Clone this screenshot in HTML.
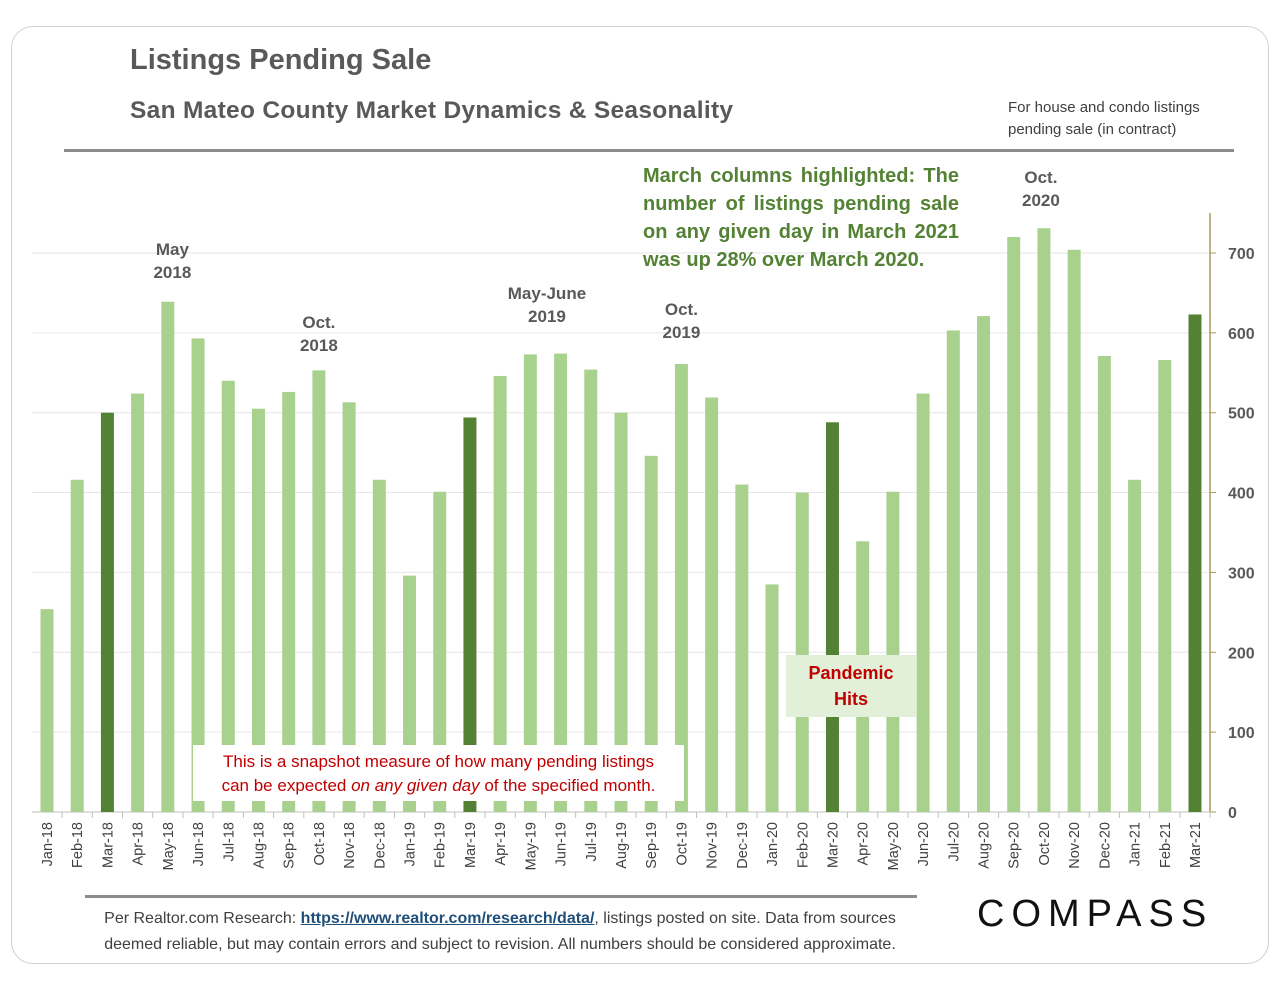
<!DOCTYPE html>
<html><head><meta charset="utf-8"><style>
body{margin:0;background:#fff;width:1280px;height:989px;overflow:hidden;font-family:"Liberation Sans",sans-serif}
.t{position:absolute;white-space:nowrap}
</style></head><body>
<div style="position:absolute;left:11px;top:26px;width:1256px;height:936px;border:1.5px solid #d0d0d0;border-radius:22px"></div>
<div class="t" style="left:130px;top:44px;font-size:29px;font-weight:bold;color:#595959">Listings Pending Sale</div>
<div class="t" style="left:130px;top:97px;font-size:24.5px;font-weight:bold;color:#595959;letter-spacing:0.3px">San Mateo County Market Dynamics &amp; Seasonality</div>
<div class="t" style="left:1008px;top:97px;font-size:15px;line-height:22px;color:#404040">For house and condo listings<br>pending sale (in contract)</div>
<div style="position:absolute;left:64px;top:149px;width:1170px;height:3px;background:#8c8c8c"></div>
<svg id="chart" width="1280" height="989" style="position:absolute;left:0;top:0"></svg>
<div class="t" style="left:643px;top:162px;font-size:20px;line-height:28px;font-weight:bold;color:#548235;text-align:justify;white-space:normal;width:316px;text-align-last:left">March columns highlighted: The number of listings pending sale on any given day in March 2021 was up 28% over March 2020.</div>
<div class="t" style="left:193px;top:745px;width:491px;height:56px;background:#fff;font-size:17px;line-height:24px;color:#c00000;text-align:center;padding-top:5px;box-sizing:border-box">This is a snapshot measure of how many pending listings<br>can be expected <i>on any given day</i> of the specified month.</div>
<div class="t" style="left:786px;top:655px;width:130px;height:62px;background:#e2f0d9;font-size:18px;line-height:26px;font-weight:bold;color:#c00000;text-align:center;padding-top:5px;box-sizing:border-box">Pandemic<br>Hits</div>
<div style="position:absolute;left:85px;top:895px;width:832px;height:3px;background:#8c8c8c"></div>
<div class="t" style="left:84px;top:906px;font-size:16px;line-height:26px;color:#404040;text-align:center;width:832px">Per Realtor.com Research: <u style="color:#1f4e79;font-weight:bold">https://www.realtor.com/research/data/</u>, listings posted on site. Data from sources<br>deemed reliable, but may contain errors and subject to revision. All numbers should be considered approximate.</div>
<div class="t" style="left:977px;top:893px;font-size:38px;letter-spacing:7px;color:#111">COMPASS</div>
<script>
const months=["Jan-18","Feb-18","Mar-18","Apr-18","May-18","Jun-18","Jul-18","Aug-18","Sep-18","Oct-18","Nov-18","Dec-18","Jan-19","Feb-19","Mar-19","Apr-19","May-19","Jun-19","Jul-19","Aug-19","Sep-19","Oct-19","Nov-19","Dec-19","Jan-20","Feb-20","Mar-20","Apr-20","May-20","Jun-20","Jul-20","Aug-20","Sep-20","Oct-20","Nov-20","Dec-20","Jan-21","Feb-21","Mar-21"];
const values=[254,416,500,524,639,593,540,505,526,553,513,416,296,401,494,546,573,574,554,500,446,561,519,410,285,400,488,339,401,524,603,621,720,731,704,571,416,566,623];
const yTicks=[0,100,200,300,400,500,600,700];
const annotations=[["May-18","May","2018"],["Oct-18","Oct.","2018"],["May-19","May-June","2019"],["Oct-19","Oct.","2019"],["Oct-20","Oct.","2020"]];
const annotY=[249,322,293,309,177];
const annotShift=[0.15,0,0.55,0,-0.1];
const svg=document.getElementById('chart');const NS='http://www.w3.org/2000/svg';
const y0=812,k=0.7986,x0=47,step=30.21;
const Y=v=>y0-v*k,X=i=>x0+i*step;
function mk(t,a){const e=document.createElementNS(NS,t);for(const q in a)e.setAttribute(q,a[q]);svg.appendChild(e);return e;}
yTicks.forEach(v=>{
 if(v>0){const g=mk('line',{x1:32,x2:1210,y1:Y(v),y2:Y(v),stroke:'#e6e6e6'});
 
 }
 const tk=mk('line',{x1:1210,x2:1216,y1:Y(v),y2:Y(v),stroke:'#a89a5a'});
 
 
 const t=mk('text',{x:1228,y:Y(v)+6,'font-size':16,'font-weight':'bold',fill:'#595959','font-family':'Liberation Sans'});t.textContent=v;
 
 
});
const ax=mk('line',{x1:1210,x2:1210,y1:213,y2:y0,stroke:'#a89a5a','stroke-width':1.5});


const bx=mk('line',{x1:32,x2:1210,y1:y0,y2:y0,stroke:'#bfbfbf'});


months.forEach((m,i)=>{
 const r=mk('rect',{x:X(i)-6.5,y:Y(values[i]),width:13,height:values[i]*k,fill:m.startsWith('Mar')?'#548235':'#a9d18e'});
 
 
 const tk=mk('line',{x1:X(i)+step/2,x2:X(i)+step/2,y1:y0,y2:y0+6,stroke:'#bfbfbf'});
 
 
 const t=mk('text',{transform:`translate(${X(i)+5},${y0+10}) rotate(-90)`,'text-anchor':'end','font-size':14.5,fill:'#404040','font-family':'Liberation Sans'});t.textContent=m;
 
 
});
annotations.forEach((a,j)=>{const i=months.indexOf(a[0]);
 [a[1],a[2]].forEach((s,l)=>{const t=mk('text',{x:X(i+annotShift[j]),y:annotY[j]+6+l*23,'text-anchor':'middle','font-size':17,'font-weight':'bold',fill:'#595959','font-family':'Liberation Sans'});t.textContent=s;
 
 });
});
</script>
</body></html>
